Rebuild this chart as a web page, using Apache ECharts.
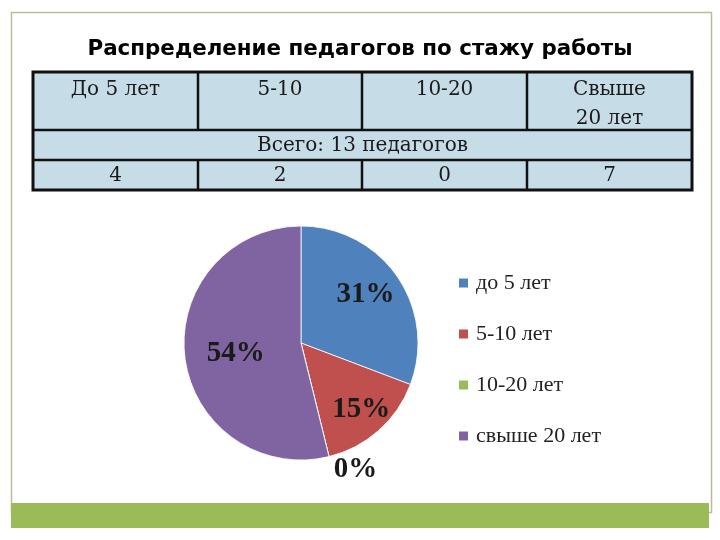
<!DOCTYPE html>
<html><head><meta charset="utf-8">
<script src="https://cdn.jsdelivr.net/npm/echarts@6/dist/echarts.min.js"></script>
<style>html,body{margin:0;padding:0;background:#fff}#c{width:720px;height:540px}</style>
</head><body><div id="c"></div>
<script>
var titleText = 'Распределение педагогов по стажу работы';
var tableHeaders = ['До 5 лет', '5-10', '10-20', 'Свыше\n20 лет'];
var totalText = 'Всего: 13 педагогов';
var counts = [4, 2, 0, 7];
var legendNames = ['до 5 лет', '5-10 лет', '10-20 лет', 'свыше 20 лет'];
var sliceColors = ['#4F81BD', '#C0504D', '#9BBB59', '#8064A2'];

var chart = echarts.init(document.getElementById('c'));

// table geometry (layout)
var tx0 = 33, tx1 = 692, colX = [33, 198, 362, 527, 692];
var rowY = [72, 130, 160, 190];
var g = [];
// frame
g.push({type:'rect', shape:{x:11.5,y:12.5,width:700,height:500}, style:{fill:'#fff', stroke:'#b9bc98', lineWidth:1.5}, z:0});
g.push({type:'rect', shape:{x:11,y:503,width:698,height:25}, style:{fill:'#9BBB59'}, z:1});
// table background
g.push({type:'rect', shape:{x:tx0,y:rowY[0],width:tx1-tx0,height:rowY[3]-rowY[0]}, style:{fill:'#c6dce7', stroke:'#111', lineWidth:3}, z:2});
for (var r = 1; r < 3; r++) {
  g.push({type:'line', shape:{x1:tx0,y1:rowY[r],x2:tx1,y2:rowY[r]}, style:{stroke:'#111', lineWidth:2.5}, z:3});
}
for (var c = 1; c < 4; c++) {
  g.push({type:'line', shape:{x1:colX[c],y1:rowY[0],x2:colX[c],y2:rowY[1]}, style:{stroke:'#111', lineWidth:2.5}, z:3});
  g.push({type:'line', shape:{x1:colX[c],y1:rowY[2],x2:colX[c],y2:rowY[3]}, style:{stroke:'#111', lineWidth:2.5}, z:3});
}
var cellFont = {fontFamily:'DejaVu Serif', fontSize:20, fill:'#1a1a1a', align:'center', lineHeight:29};
for (var i = 0; i < 4; i++) {
  var cx = (colX[i] + colX[i+1]) / 2;
  g.push({type:'text', x:cx, y:rowY[0]+3, style:Object.assign({text:tableHeaders[i], verticalAlign:'top'}, cellFont), z:4});
  g.push({type:'text', x:cx, y:(rowY[2]+rowY[3])/2+1, style:Object.assign({text:String(counts[i]), verticalAlign:'middle'}, cellFont), z:4});
}
g.push({type:'text', x:(tx0+tx1)/2, y:(rowY[1]+rowY[2])/2+1, style:Object.assign({text:totalText, verticalAlign:'middle'}, cellFont), z:4});

var pieCenter = [301, 343], pieR = 117;
var labelFactor = [1.45, 1.55, 2.35, 1.15];
var labelDx = [-9, -3, 20, 5];
var labelDy = [2, -5, -14, 2];

var data = counts.map(function (v, i) {
  return {name: legendNames[i], value: v, itemStyle: {color: sliceColors[i]}};
});

chart.setOption({
  backgroundColor: '#fff',
  animation: false,
  title: {
    text: titleText, left: 'center', top: 34,
    textStyle: {fontFamily: 'DejaVu Sans', fontWeight: 'bold', fontSize: 21.4, color: '#000'}
  },
  graphic: g,
  legend: {
    orient: 'vertical', left: 452, top: 267, itemGap: 29,
    itemWidth: 11, itemHeight: 11, icon: 'rect',
    textStyle: {fontFamily: 'Liberation Serif', fontSize: 22, color: '#222', padding: [0,0,0,2]},
    data: legendNames
  },
  series: [{
    type: 'pie', center: pieCenter, radius: [0, pieR], startAngle: 90, clockwise: true,
    z: 5,
    data: data,
    itemStyle: {borderColor: '#fff', borderWidth: 0.8},
    label: {
      show: true, position: 'inside',
      formatter: function (p) { return Math.round(p.percent) + '%'; },
      fontFamily: 'Liberation Serif', fontWeight: 'bold', fontSize: 29, color: '#1a1a1a'
    },
    labelLine: {show: false},
    emphasis: {disabled: true},
    labelLayout: function (p) {
      var r = p.labelRect;
      var lx = r.x + r.width / 2, ly = r.y + r.height / 2;
      var f = labelFactor[p.dataIndex];
      return {
        x: pieCenter[0] + (lx - pieCenter[0]) * f + labelDx[p.dataIndex],
        y: pieCenter[1] + (ly - pieCenter[1]) * f + labelDy[p.dataIndex],
        align: 'center', verticalAlign: 'middle'
      };
    }
  }]
});
</script></body></html>
